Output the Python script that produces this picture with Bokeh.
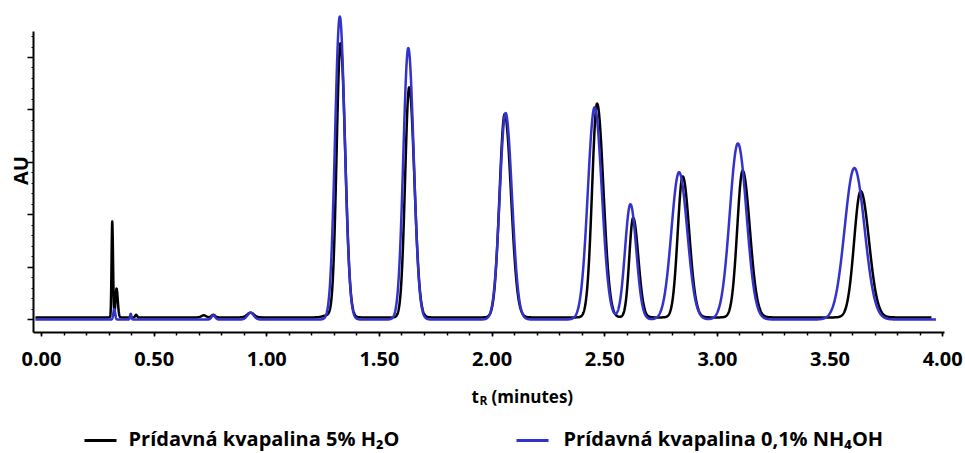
import numpy as np
from bokeh.plotting import figure
from bokeh.layouts import column
from bokeh.models import Range1d, FixedTicker
from bokeh.core.properties import value
from bokeh.embed import file_html
from bokeh.resources import INLINE

# ---- axis ticks -------------------------------------------------------------
x_ticks = [0.0, 0.5, 1.0, 1.5, 2.0, 2.5, 3.0, 3.5, 4.0]
x_tick_labels = ["0.00", "0.50", "1.00", "1.50", "2.00", "2.50", "3.00", "3.50", "4.00"]
y_ticks = [0.0, 0.1, 0.2, 0.3, 0.4, 0.5]

# ---- trace 1: Prídavná kvapalina 5% H2O (peak table) --------------------------
h2o_span = [-0.027, 3.95]          # run time window, min
h2o_baseline = 0.004               # AU
h2o_rt = [0.314, 0.333, 0.420, 0.720, 0.763, 0.928, 1.270,
          1.327, 1.632, 2.056, 2.466, 2.626, 2.846, 3.112, 3.636]
h2o_height = [0.183, 0.055, 0.005, 0.004, 0.005, 0.009, 0.004,
              0.523, 0.439, 0.388, 0.408, 0.190, 0.269, 0.280, 0.241]
h2o_sigma_front = [0.0030, 0.0045, 0.004, 0.010, 0.008, 0.015, 0.020,
                   0.017, 0.018, 0.023, 0.022, 0.017, 0.022, 0.024, 0.029]
h2o_sigma_tail = [0.0035, 0.0055, 0.004, 0.010, 0.008, 0.015, 0.020,
                  0.021, 0.023, 0.028, 0.028, 0.023, 0.029, 0.032, 0.037]

# ---- trace 2: Prídavná kvapalina 0,1% NH4OH (peak table) ----------------------
nh4_span = [-0.027, 3.97]
nh4_baseline = 0.0
nh4_rt = [0.323, 0.396, 0.763, 0.928,
          1.324, 1.628, 2.060, 2.455, 2.614, 2.830, 3.091, 3.608]
nh4_height = [0.020, 0.011, 0.008, 0.013,
              0.578, 0.518, 0.394, 0.405, 0.220, 0.281, 0.336, 0.289]
nh4_sigma_front = [0.004, 0.003, 0.008, 0.014,
                   0.021, 0.022, 0.026, 0.030, 0.024, 0.034, 0.036, 0.043]
nh4_sigma_tail = [0.004, 0.003, 0.008, 0.014,
                  0.022, 0.024, 0.028, 0.032, 0.026, 0.036, 0.038, 0.045]

legend_labels = ["Prídavná kvapalina 5% H\u2082O", "Prídavná kvapalina 0,1% NH\u2084OH"]

BLACK = "#000000"
BLUE = "#3333cc"
FONT = "Open Sans"


def detector_trace(span, baseline, rt, height, s_front, s_tail, step=0.001):
    """Sum of asymmetric Gaussian peaks on a flat baseline."""
    t = np.arange(span[0], span[1] + step / 2, step)
    signal = np.full_like(t, baseline)
    for r, h, a, b in zip(rt, height, s_front, s_tail):
        s = np.where(t < r, a, b)
        signal += h * np.exp(-0.5 * ((t - r) / s) ** 2)
    return t, signal


t1, y1 = detector_trace(h2o_span, h2o_baseline, h2o_rt, h2o_height,
                        h2o_sigma_front, h2o_sigma_tail)
t2, y2 = detector_trace(nh4_span, nh4_baseline, nh4_rt, nh4_height,
                        nh4_sigma_front, nh4_sigma_tail)

# ---- chromatogram -------------------------------------------------------------
p = figure(width=965, height=375, output_backend="svg", toolbar_location=None,
           title=None,
           x_range=Range1d(-0.0355, 4.008), y_range=Range1d(-0.0248, 0.5935),
           min_border_left=33, min_border_right=21, min_border_top=8,
           min_border_bottom=43)
p.grid.visible = False
p.outline_line_color = None
p.background_fill_color = "white"
p.border_fill_color = "white"

p.line(t1, y1, color=BLACK, line_width=2.5, line_join="round")
p.line(t2, y2, color=BLUE, line_width=2.5, line_join="round")

xa = p.xaxis[0]
xa.ticker = FixedTicker(ticks=x_ticks,
                        minor_ticks=[round(0.1 * i, 1) for i in range(41)])
xa.major_label_overrides = {t: s for t, s in zip(x_ticks, x_tick_labels)}
xa.bounds = (-0.0355, 4.008)
xa.axis_line_width = 2
xa.major_tick_in = 0
xa.major_tick_out = 4
xa.minor_tick_in = 0
xa.minor_tick_out = 3
xa.major_tick_line_width = 1.5
xa.minor_tick_line_width = 1.5
xa.major_label_standoff = 15
xa.major_label_text_font = FONT
xa.major_label_text_font_style = "bold"
xa.major_label_text_font_size = "20px"
xa.major_label_text_color = "black"

ya = p.yaxis[0]
ya.ticker = FixedTicker(ticks=y_ticks,
                        minor_ticks=[round(0.02 * i, 2) for i in range(28)])
ya.major_label_overrides = {t: "" for t in y_ticks}
ya.major_label_standoff = 0
ya.bounds = (-0.0248, 0.5496)
ya.axis_line_width = 2
ya.major_tick_in = 0
ya.major_tick_out = 6
ya.minor_tick_in = 0
ya.minor_tick_out = 2
ya.major_tick_line_width = 1.5
ya.minor_tick_line_width = 1.2
ya.axis_label = "AU"
ya.axis_label_standoff = -6
ya.axis_label_text_font = FONT
ya.axis_label_text_font_style = "bold"
ya.axis_label_text_font_size = "20px"
ya.axis_label_text_color = "black"

# ---- axis title and legend strip (pixel coordinates of the page) ---------------
q = figure(width=965, height=78, output_backend="svg", toolbar_location=None,
           title=None,
           x_range=Range1d(33, 944), y_range=Range1d(453, 375),
           x_axis_location=None, y_axis_location=None,
           min_border=0)
q.grid.visible = False
q.outline_line_color = None
q.background_fill_color = "white"
q.border_fill_color = "white"

common = dict(text_font=value(FONT), text_font_style="bold",
              text_color="black", text_baseline="alphabetic", text_align="left")
q.text(x=[471], y=[396], text=["t"], text_font_size="17px", **common)
q.text(x=[479], y=[400], text=["R"], text_font_size="12px", **common)
q.text(x=[491], y=[396], text=["(minutes)"], text_font_size="17px", **common)

legend_colors = [BLACK, BLUE]
q.segment(x0=[84, 516], y0=[440, 440], x1=[116, 548], y1=[440, 440],
          color=legend_colors, line_width=3)
q.text(x=[128, 563], y=[438, 438], text=legend_labels,
       text_font_size="20px", **common)

layout = column(p, q, spacing=0)
open("out.html", "w").write(file_html(layout, INLINE))
